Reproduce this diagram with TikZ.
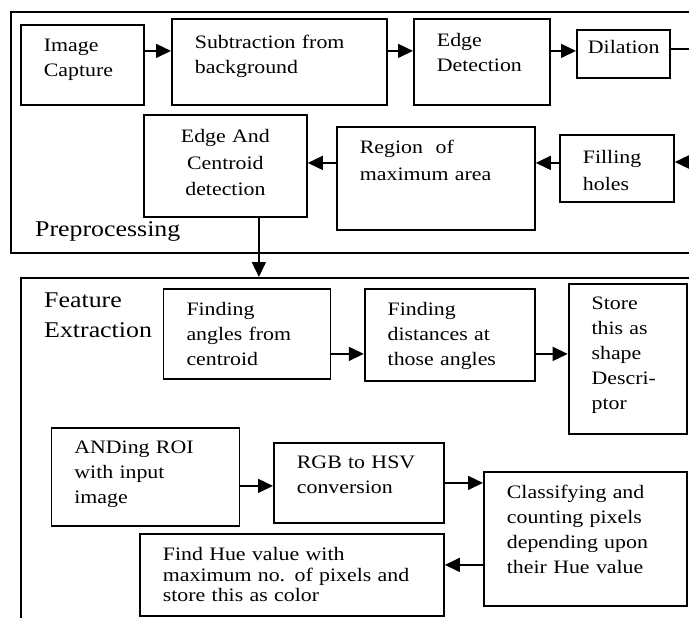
\documentclass[tikz,border=0pt]{standalone}
\usepackage{fontspec}
\setmainfont{Liberation Serif}[FakeStretch=1.15]
\usetikzlibrary{arrows.meta}

\begin{document}
\begin{tikzpicture}[x=1pt,y=-1pt]
\tikzstyle{frame}=[draw, line width=1.8pt, anchor=north west, inner sep=0pt]
\tikzstyle{box}=[draw, line width=1.8pt, anchor=north west, inner xsep=23pt, inner ysep=0pt,
  align=left, font=\fontsize{19}{25}\selectfont]
\tikzstyle{lbl}=[anchor=base west, inner sep=0pt, align=left, font=\fontsize{22.5}{30}\selectfont]
\tikzstyle{wire}=[line width=1.5pt]
\tikzstyle{arr}=[wire, -{Triangle[length=15pt,width=14pt]}]
\useasboundingbox (0,0) rectangle (689,618);
\clip (0,0) rectangle (689,618);
% preprocessing
\node[frame, minimum width=690pt, minimum height=241pt] (pre) at (10,11) {};
\node[lbl] (prelbl) at (35,236) {Preprocessing};
\node[box, text width=77pt, text height=27pt, text depth=53pt] (capture) at (20,24) {Image\\Capture};
\node[box, text width=169pt, text height=30pt, text depth=56pt] (subtract) at (171,18) {Subtraction from\\background};
\node[box, text width=90pt, text height=28pt, text depth=58pt] (edge) at (413,18) {Edge\\Detection};
\node[box, inner xsep=11pt, text width=71pt, text height=24pt, text depth=24pt] (dilation) at (576,29) {Dilation};
\node[box, align=center, font=\fontsize{19}{26.5}\selectfont, text width=117pt, text height=28pt, text depth=74pt] (centroid) at (143,114) {Edge And\\Centroid\\detection};
\node[box, font=\fontsize{19}{26.5}\selectfont, text width=152pt, text height=27pt, text depth=76pt] (region) at (336,126) {Region \ of\\maximum area};
\node[box, font=\fontsize{19}{26.5}\selectfont, text width=68pt, text height=29pt, text depth=38pt] (filling) at (559,134) {Filling\\holes};
\coordinate (dilout) at (700,49);
\coordinate (fillin) at (700,162);
\draw[arr] ([yshift=14pt]capture.east) -- ([yshift=14pt]capture.east -| subtract.west);
\draw[arr] ([yshift=11pt]subtract.east) -- ([yshift=11pt]subtract.east -| edge.west);
\draw[arr] ([yshift=11pt]edge.east) -- ([yshift=11pt]edge.east -| dilation.west);
\draw[wire] (dilout -| dilation.east) -- (dilout);
\draw[arr] (fillin) -- (fillin -| filling.east);
\draw[arr] ([yshift=5.5pt]filling.west) -- ([yshift=5.5pt]filling.west -| region.east);
\draw[arr] ([yshift=3pt]centroid.east -| region.west) -- ([yshift=3pt]centroid.east);
% feature extraction
\node[frame, minimum width=680pt, minimum height=353pt] (feat) at (20,277) {};
\node[lbl, text width=120pt] (featlbl) at (44,307) {Feature\\Extraction};
\draw[arr] ([xshift=33.5pt]centroid.south) -- ([xshift=33.5pt]centroid.south |- feat.north);
\node[box, text width=121pt, text height=27pt, text depth=63pt] (angles) at (162.6,288) {Finding\\angles from\\centroid};
\node[box, text width=124pt, text height=27pt, text depth=65pt] (distances) at (363.8,288) {Finding\\distances at\\those angles};
\node[box, text width=72pt, text height=26pt, text depth=124pt] (store) at (567.7,283) {Store\\this as\\shape\\Descri-\\ptor};
\node[box, text width=142pt, text height=26pt, text depth=72pt] (anding) at (50.5,427) {ANDing ROI\\with input\\image};
\node[box, text width=124pt, text height=26pt, text depth=54pt] (rgb) at (273,442) {RGB to HSV\\conversion};
\node[box, text width=157pt, text height=27pt, text depth=107pt] (classify) at (483,471) {Classifying and\\counting pixels\\depending upon\\their Hue value};
\node[box, font=\fontsize{19}{20.5}\selectfont, text width=258pt, text height=27pt, text depth=55pt] (findhue) at (139,533) {Find Hue value with\\maximum no. of pixels and\\store this as color};
\draw[arr] ([yshift=-20pt]angles.east) -- ([yshift=-20pt]angles.east -| distances.west);
\draw[arr] ([yshift=-19pt]distances.east) -- ([yshift=-19pt]distances.east -| store.west);
\draw[arr] ([yshift=-9pt]anding.east) -- ([yshift=-9pt]anding.east -| rgb.west);
\draw[arr] (rgb.east) -- (rgb.east -| classify.west);
\draw[arr] ([yshift=-26pt]classify.west) -- ([yshift=-26pt]classify.west -| findhue.east);
\end{tikzpicture}
\end{document}
